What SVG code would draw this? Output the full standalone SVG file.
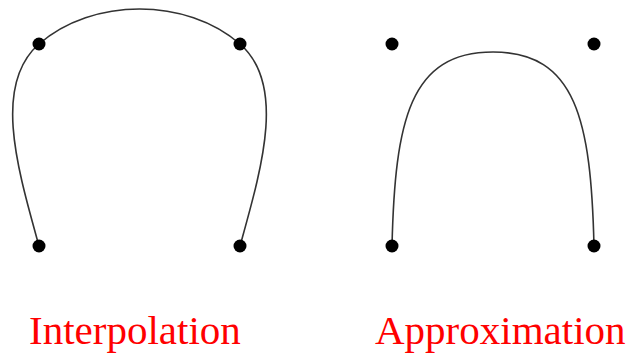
<svg xmlns="http://www.w3.org/2000/svg" width="627" height="353" viewBox="0 0 627 353">
<style>
.curve{fill:none;stroke:#333;stroke-width:1.6}
.pt{fill:#000}
.lbl{font-family:"Liberation Serif","Times New Roman",serif;font-size:41px;fill:#f00}
</style>
<rect width="627" height="353" fill="#fff"/>
<g id="connectors">
<path class="curve" d="M39,246 C18,170 -8,85 39,44 C92.6,-2.7 186.4,-2.7 240,44 C287,85 261,170 240,246"/>
<path class="curve" d="M392,246 C395,120 410,52 493,52 C576,52 591,120 594,246"/>
</g>
<g id="interpolation">
<circle class="pt" cx="39" cy="44" r="6.5"/>
<circle class="pt" cx="240" cy="44" r="6.5"/>
<circle class="pt" cx="39" cy="246" r="6.5"/>
<circle class="pt" cx="240" cy="246" r="6.5"/>
<text class="lbl" x="29" y="344">Interpolation</text>
</g>
<g id="approximation">
<circle class="pt" cx="392" cy="44" r="6.5"/>
<circle class="pt" cx="594" cy="44" r="6.5"/>
<circle class="pt" cx="392" cy="246" r="6.5"/>
<circle class="pt" cx="594" cy="246" r="6.5"/>
<text class="lbl" x="375" y="344">Approximation</text>
</g>
</svg>
